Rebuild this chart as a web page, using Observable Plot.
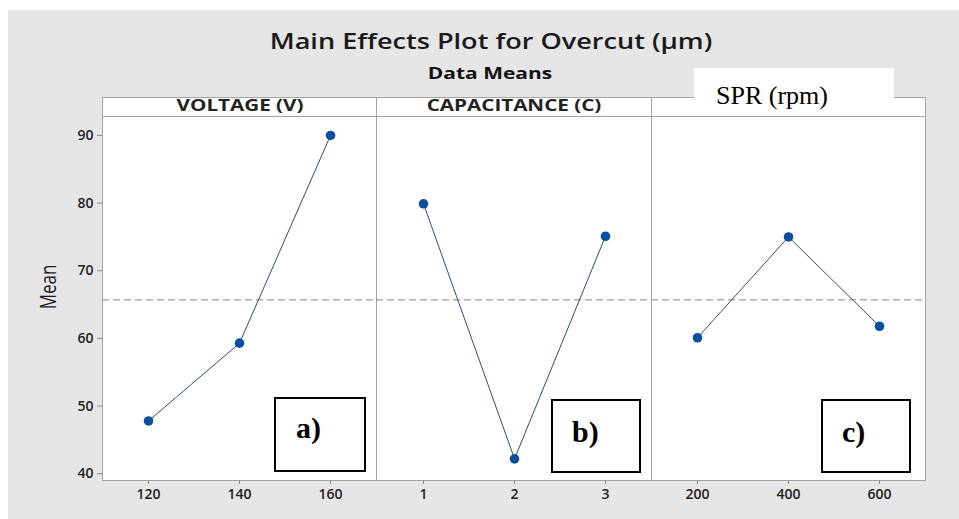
<!DOCTYPE html>
<html>
<head>
<meta charset="utf-8">
<script src="https://cdn.jsdelivr.net/npm/d3@7"></script>
<script src="https://cdn.jsdelivr.net/npm/@observablehq/plot@0.6"></script>
<style>
  html, body { margin: 0; padding: 0; background: #ffffff; }
  body { width: 959px; height: 519px; overflow: hidden; position: relative; font-family: "Open Sans", sans-serif; }
  #bg { position: absolute; left: 8px; top: 10px; width: 951px; height: 509px; background: #e6e6e6; }
  .abs { position: absolute; white-space: nowrap; }
  .strip { position: absolute; box-sizing: border-box; background: #fff; border: 1px solid #a3a3a3; }
  .strip span { position: absolute; left: 50%; top: 0; font-weight: 700; font-size: 15.5px; line-height: 15.5px; color: #222;
                transform: translateX(-50%) scaleX(1.33); white-space: nowrap; }
  .tagbox { position: absolute; box-sizing: border-box; border: 2px solid #000; background: #fff; }
  .tag { position: absolute; font-family: "Liberation Serif", "Times New Roman", serif; font-weight: 700; font-size: 30px; line-height: 30px; color: #000; }
  svg g[aria-label="x-axis tick label"] text, svg g[aria-label="y-axis tick label"] text { font-weight: 600; }
</style>
</head>
<body>
<div id="bg"></div>
<script>
// ---- data ----
const factors = ["VOLTAGE (V)", "CAPACITANCE (C)", "SPR (rpm)"];
const voltageLevels = [120, 140, 160];
const voltageMeans = [47.8, 59.3, 90.0];
const capacitanceLevels = [1, 2, 3];
const capacitanceMeans = [79.9, 42.2, 75.1];
const sprLevels = [200, 400, 600];
const sprMeans = [60.1, 75.0, 61.8];
const grandMean = 65.7;
const yTicks = [40, 50, 60, 70, 80, 90];
const panelTags = ["a)", "b)", "c)"];
const chartTitle = "Main Effects Plot for Overcut (µm)";
const chartSubtitle = "Data Means";
const yLabel = "Mean";

// ---- layout ----
const panelX = [102, 376, 651, 925];
const plotTop = 116, plotBottom = 480, stripTop = 97;
const yDomain = [39, 92.8];
const tagLayout = [
  {box: [274, 397, 92, 75], text: [296, 413]},
  {box: [551, 399, 90, 74], text: [572, 417]},
  {box: [821, 399, 90, 74], text: [842, 417]}
];

const levelSets = [voltageLevels, capacitanceLevels, sprLevels];
const meanSets = [voltageMeans, capacitanceMeans, sprMeans];

function addDiv(cls, css, text) {
  const d = document.createElement("div");
  if (cls) d.className = cls;
  Object.assign(d.style, css);
  if (text != null) d.textContent = text;
  document.body.appendChild(d);
  return d;
}

// Title & subtitle
addDiv("abs", {left: "491px", top: "31px", fontSize: "21px", lineHeight: "21px", fontWeight: "600", color: "#1a1a1a",
  transform: "translateX(-50%) scaleX(1.29)"}, chartTitle);
addDiv("abs", {left: "490px", top: "65px", fontSize: "16.5px", lineHeight: "16.5px", fontWeight: "700", color: "#111111",
  transform: "translateX(-50%) scaleX(1.27)"}, chartSubtitle);

// Y label
addDiv("abs", {left: "48px", top: "287px", fontSize: "17px", lineHeight: "17px", fontWeight: "500", color: "#1a1a1a",
  transform: "translate(-50%,-50%) scaleX(1.28) rotate(-90deg)"}, yLabel);

// Panels
for (let i = 0; i < 3; i++) {
  const rows = levelSets[i].map((lv, k) => ({level: lv, mean: meanSets[i][k]}));
  const ml = i === 0 ? 82 : 1, mr = 1, mt = 1, mb = 32;
  const w = panelX[i + 1] - panelX[i];
  const chart = Plot.plot({
    width: ml + w + mr,
    height: mt + (plotBottom - plotTop) + mb,
    marginLeft: ml, marginRight: mr, marginTop: mt, marginBottom: mb,
    style: {background: "transparent", fontFamily: "'Open Sans', sans-serif", fontSize: "14px", overflow: "visible"},
    x: {type: "point", domain: levelSets[i], padding: 0.5},
    y: {domain: yDomain, axis: i === 0 ? undefined : null},
    marks: [
      Plot.frame({fill: "#ffffff", stroke: "#a3a3a3"}),
      Plot.ruleY([grandMean], {stroke: "#858585", strokeWidth: 1, strokeDasharray: "7,4"}),
      Plot.line(rows, {x: "level", y: "mean", stroke: "#2f4d72", strokeWidth: 1}),
      Plot.dot(rows, {x: "level", y: "mean", r: 4.8, fill: "#0c4f9e", stroke: "none"}),
      Plot.axisX({tickSize: 4, tickPadding: 5, stroke: "#8a8a8a", fill: "#222222", label: null}),
      i === 0 ? Plot.axisY({ticks: yTicks, tickSize: 5, tickPadding: 4, stroke: "#8a8a8a", fill: "#222222", label: null}) : null
    ]
  });
  const holder = addDiv(null, {position: "absolute", left: (panelX[i] - ml) + "px", top: (plotTop - mt) + "px"});
  holder.appendChild(chart);

  // strip header
  const strip = addDiv("strip", {left: panelX[i] + "px", top: stripTop + "px", width: (w + 1) + "px", height: (plotTop - stripTop + 1) + "px"});
  if (i < 2) {
    const s = document.createElement("span");
    s.textContent = factors[i];
    s.style.top = "0px";
    strip.appendChild(s);
  }

  // tag boxes
  const t = tagLayout[i];
  addDiv("tagbox", {left: t.box[0] + "px", top: t.box[1] + "px", width: t.box[2] + "px", height: t.box[3] + "px"});
  addDiv("tag", {left: t.text[0] + "px", top: t.text[1] + "px"}, panelTags[i]);
}

// overlaid white box with third factor name
const spr = addDiv("abs", {left: "694px", top: "68px", width: "200px", height: "48px", background: "#ffffff"});
const sprText = document.createElement("div");
Object.assign(sprText.style, {position: "absolute", left: "22px", top: "15px", fontFamily: "'Liberation Serif', 'Times New Roman', serif",
  fontSize: "26px", lineHeight: "26px", color: "#000", whiteSpace: "nowrap"});
sprText.textContent = factors[2];
spr.appendChild(sprText);
</script>
</body>
</html>
